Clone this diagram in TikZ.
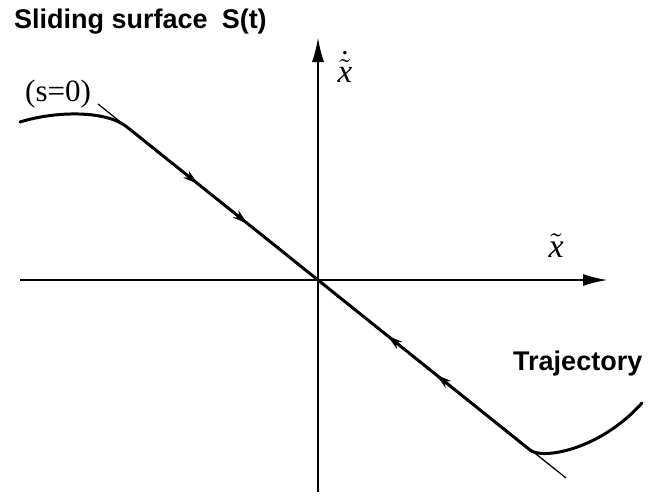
\documentclass[tikz,border=0pt]{standalone}
\usepackage{fontspec}
\newfontfamily\arialfont{Liberation Sans}
\newfontfamily\timesfont{Liberation Serif}
\usetikzlibrary{arrows.meta,decorations.markings}
\newcommand{\tvar}{\mbox{\timesfont\itshape x}}
\begin{document}
\begin{tikzpicture}[x=1pt,y=-1pt,
  axisline/.style={line width=2.4pt,-{Latex[length=25pt,width=12pt]}},
  traj/.style={line width=3pt,line cap=round,line join=round},
  surf/.style={line width=1.3pt},
  lbl/.style={inner sep=0pt,anchor=base west},
]
\useasboundingbox (0,0) rectangle (652,496);
% axes
\coordinate (O) at (318,280);
\coordinate (xl) at (20,280);
\coordinate (xr) at (608,280);
\coordinate (yb) at (318,492);
\coordinate (yt) at (318,37);
\draw[axisline] (xl) -- (xr);
\draw[axisline] (yb) -- (yt);
% sliding surface s=0
\coordinate (s1) at (98,104);
\coordinate (s2) at (566,478);
\draw[surf] (s1) -- (s2);
% trajectory
\coordinate (t0) at (20,122);
\coordinate (j1) at (127,127);
\coordinate (j2) at (530,450);
\coordinate (t3) at (642,403);
\draw[traj] (t0) .. controls (55,111) and (106,110) .. (j1) -- (O) -- (j2)
   .. controls (542,460) and (600,450) .. (t3);
% flow arrows
\path[decorate,decoration={markings,
   mark=at position 0.37 with {\arrow{Stealth[length=15pt,width=9pt]}},
   mark=at position 0.63 with {\arrow{Stealth[length=15pt,width=9pt]}}}] (j1) -- (O);
\path[decorate,decoration={markings,
   mark=at position 0.33 with {\arrowreversed{Stealth[length=15pt,width=9pt]}},
   mark=at position 0.56 with {\arrowreversed{Stealth[length=15pt,width=9pt]}}}] (O) -- (j2);
% labels
\node[lbl] (title) at (14,28) {\arialfont\bfseries\fontsize{27}{30}\selectfont Sliding surface\hspace{14pt}S(t)};
\node[lbl] (trajl) at (513,370) {\arialfont\bfseries\fontsize{27}{30}\selectfont Trajectory};
\node[lbl] (sl) at (25,101) {\timesfont\fontsize{31}{33}\selectfont (s=0)};
\node[lbl,scale=3.4] (xlab) at (548,257) {$\tilde{\tvar}$};
\node[lbl,scale=3.3] (ylab) at (337,82) {$\dot{\tilde{\tvar}}$};
\end{tikzpicture}
\end{document}
